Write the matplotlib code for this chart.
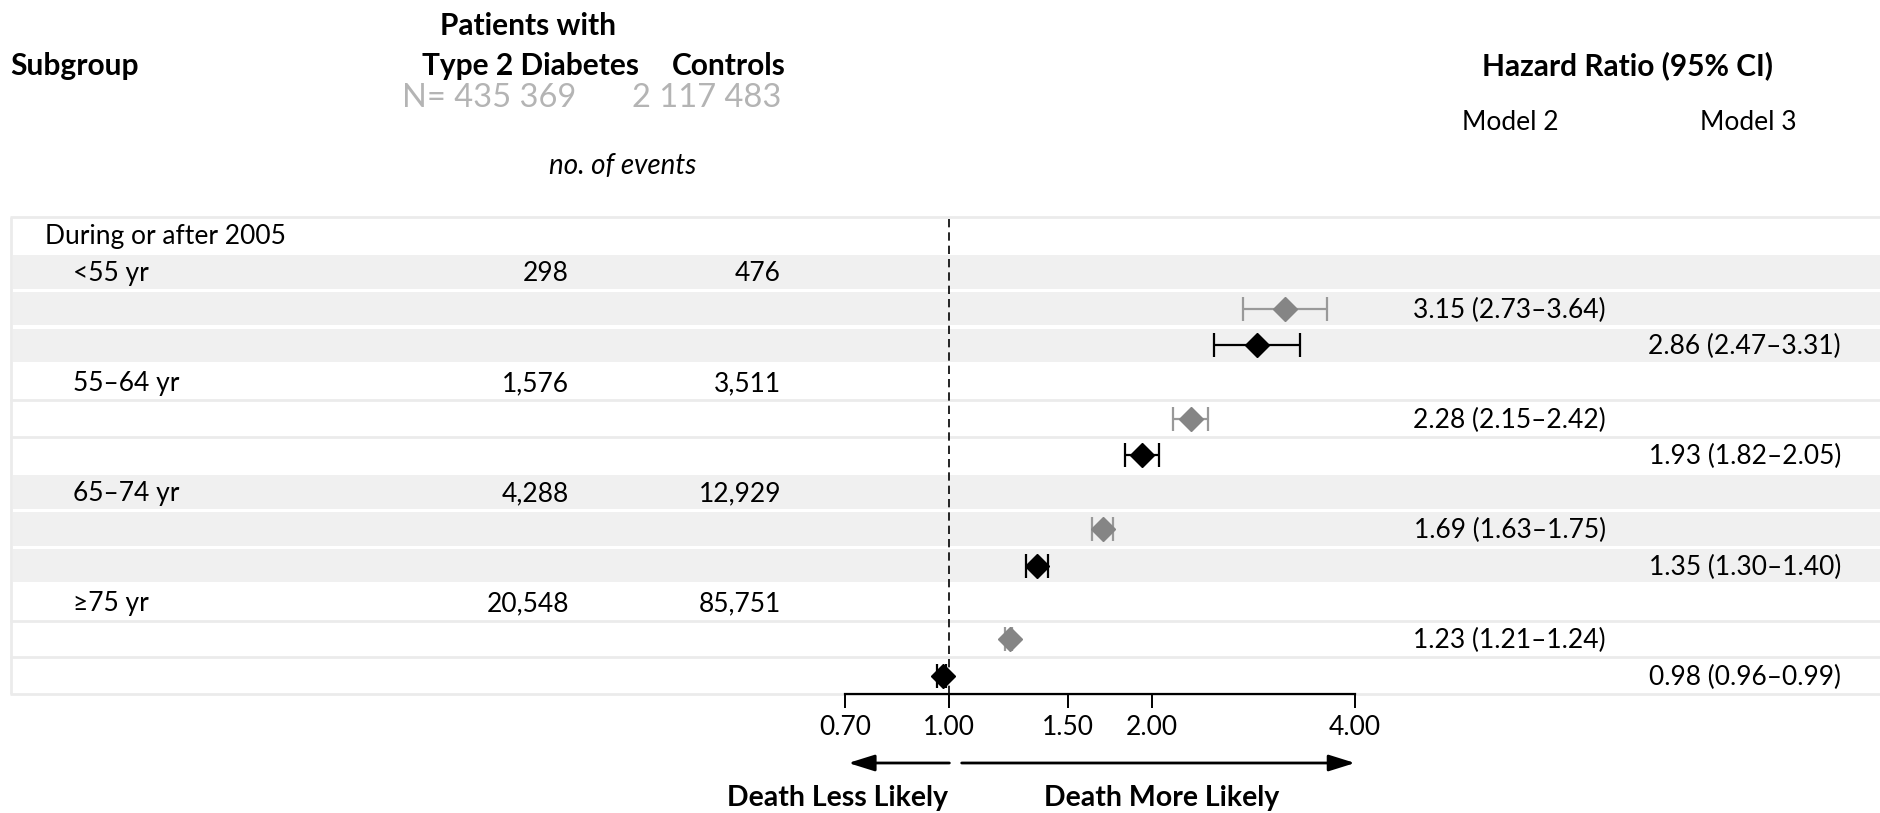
import numpy as np
import matplotlib
matplotlib.use('Agg')
import matplotlib.pyplot as plt

plt.rcParams['font.family'] = ['Lato', 'DejaVu Sans']

# --- data -------------------------------------------------------------
subgroups = ['<55 yr', '55–64 yr', '65–74 yr', '≥75 yr']
events_t2d = ['298', '1,576', '4,288', '20,548']
events_ctrl = ['476', '3,511', '12,929', '85,751']

hr_m2 = np.array([3.15, 2.28, 1.69, 1.23])
lo_m2 = np.array([2.73, 2.15, 1.63, 1.21])
hi_m2 = np.array([3.64, 2.42, 1.75, 1.24])

hr_m3 = np.array([2.86, 1.93, 1.35, 0.98])
lo_m3 = np.array([2.47, 1.82, 1.30, 0.96])
hi_m3 = np.array([3.31, 2.05, 1.40, 0.99])

xticks = [0.70, 1.00, 1.50, 2.00, 4.00]
n_totals = ['N= 435 369', '2 117 483']

# --- layout (pixels) ---------------------------------------------------
W, H = 1880, 813
TOP, BOT = 217, 694
nrows = 1 + 3 * len(subgroups)
rh = (BOT - TOP) / nrows
GRAY = '#f0f0f0'
LINE = '#ebebeb'


def ypix(i):
    return TOP + rh * (i + 0.5)


fig = plt.figure(figsize=(W / 100, H / 100), dpi=100)
bg = fig.add_axes([0, 0, 1, 1])
bg.set_xlim(0, W)
bg.set_ylim(H, 0)
bg.axis('off')

# row shading
bg.vlines(11, TOP, BOT, color=LINE, lw=2)
bg.hlines([TOP, BOT], 10, W, color=LINE, lw=2)
for g in range(len(subgroups)):
    for k in range(3):
        i = 1 + 3 * g + k
        y0, y1 = TOP + rh * i, TOP + rh * (i + 1)
        if g % 2 == 0:
            bg.fill_between([13, W], y0 + 1.6, y1 - 1.6, color=GRAY, lw=0)
        elif k > 0:
            bg.hlines(y0, 10, W, color=LINE, lw=2)

# headers
hb = dict(fontsize=21.5, fontweight='bold', va='baseline')
bg.text(10, 75, 'Subgroup', ha='left', **hb)
bg.text(528, 35, 'Patients with', ha='center', **hb)
bg.text(530, 75, 'Type 2 Diabetes', ha='center', **hb)
bg.text(786, 75, 'Controls', ha='right', **hb)
bg.text(1628, 75, 'Hazard Ratio (95% CI)', ha='center', **hb)
bg.text(402, 107, n_totals[0], ha='left', va='baseline', fontsize=23.5, color='#b4b4b4')
bg.text(781, 107, n_totals[1], ha='right', va='baseline', fontsize=23.5, color='#b4b4b4')
bg.text(1510, 130, 'Model 2', ha='center', va='baseline', fontsize=19)
bg.text(1748, 130, 'Model 3', ha='center', va='baseline', fontsize=19)
bg.text(623, 174, 'no. of events', ha='center', va='baseline', fontsize=20, style='italic')

# row texts
rt = dict(fontsize=19, va='baseline')
bg.text(45, ypix(0) + 9, 'During or after 2005', ha='left', **rt)
for g, name in enumerate(subgroups):
    i = 1 + 3 * g
    bg.text(73, ypix(i) + 9, name, ha='left', **rt)
    bg.text(569, ypix(i) + 9, events_t2d[g], ha='right', **rt)
    bg.text(781, ypix(i) + 9, events_ctrl[g], ha='right', **rt)
    bg.text(1606, ypix(i + 1) + 9, f'{hr_m2[g]:.2f} ({lo_m2[g]:.2f}–{hi_m2[g]:.2f})', ha='right', **rt)
    bg.text(1841, ypix(i + 2) + 9, f'{hr_m3[g]:.2f} ({lo_m3[g]:.2f}–{hi_m3[g]:.2f})', ha='right', **rt)

# --- forest axes -------------------------------------------------------
X0, X1 = 845, 1355
fax = fig.add_axes([X0 / W, 1 - BOT / H, (X1 - X0) / W, (BOT - TOP) / H])
fax.set_facecolor('none')
fax.set_xscale('log')
fax.set_xlim(0.70, 4.00)
fax.set_ylim(nrows - 0.5, -0.5)
for s in ['top', 'right', 'left']:
    fax.spines[s].set_visible(False)
fax.spines['bottom'].set_linewidth(1.6)
fax.set_yticks([])
fax.set_xticks(xticks)
fax.set_xticklabels([f'{v:.2f}' for v in xticks], fontsize=19)
fax.xaxis.set_minor_locator(matplotlib.ticker.NullLocator())
fax.tick_params(axis='x', direction='out', length=10, width=1.4, pad=5)

fax.axvline(1.0, color='black', lw=1.2, ls=(0, (5, 3)), zorder=1)

rows_m2 = 2 + 3 * np.arange(len(subgroups))
rows_m3 = rows_m2 + 1
fax.errorbar(hr_m2, rows_m2, xerr=[hr_m2 - lo_m2, hi_m2 - hr_m2], fmt='D', ms=12,
             mfc='#858585', mec='#858585', ecolor='#999999', elinewidth=1.6,
             capsize=8.5, capthick=1.6, zorder=3)
fax.errorbar(hr_m3, rows_m3, xerr=[hr_m3 - lo_m3, hi_m3 - hr_m3], fmt='D', ms=12,
             mfc='black', mec='black', ecolor='black', elinewidth=1.6,
             capsize=8.5, capthick=1.6, zorder=3)

# direction arrows and captions
ay = H - 763
arrow = dict(arrowstyle='-|>,head_length=0.8,head_width=0.25', lw=2, color='black',
             mutation_scale=20, shrinkA=0, shrinkB=0)
fax.annotate('', xy=(0.708, ay), xytext=(1.0, ay), xycoords=('data', 'figure pixels'),
             arrowprops=arrow, annotation_clip=False)
fax.annotate('', xy=(4.0, ay), xytext=(1.043, ay), xycoords=('data', 'figure pixels'),
             arrowprops=arrow, annotation_clip=False)
bg.text(948, 806, 'Death Less Likely', ha='right', va='baseline', fontsize=20.5, fontweight='bold')
bg.text(1044, 806, 'Death More Likely', ha='left', va='baseline', fontsize=20.5, fontweight='bold')

fig.savefig('out.png', dpi=100)
